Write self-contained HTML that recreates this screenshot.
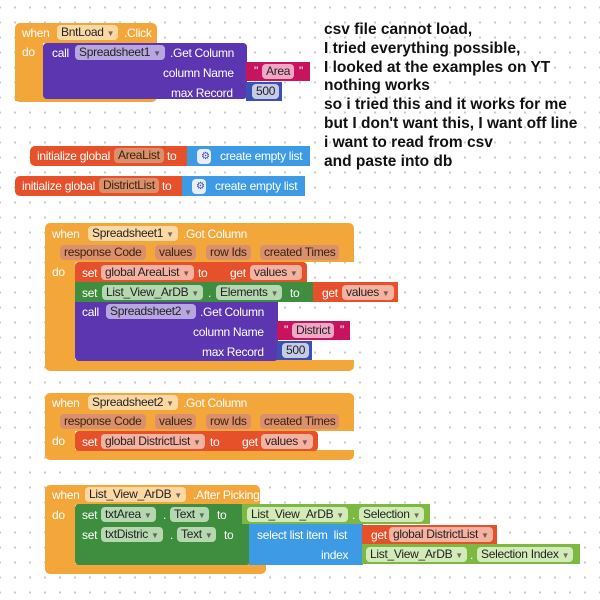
<!DOCTYPE html>
<html><head><meta charset="utf-8"><style>
body{margin:0;width:600px;height:600px;overflow:hidden;background:#fff;
background-image:radial-gradient(circle,#c8c8c8 1px,transparent 1.3px);background-size:15px 15px;background-position:-7.5px 0px;
font-family:"Liberation Sans",Arial,sans-serif;}
.b{position:absolute;}
.t{position:absolute;color:#fff;font-size:12px;letter-spacing:-0.3px;line-height:15px;white-space:nowrap}
.p{position:absolute;font-size:12px;letter-spacing:-0.3px;line-height:15px;height:15px;padding:0 4px;border-radius:4px;white-space:nowrap;color:#222}
.p i{font-style:normal;font-size:8px;opacity:.6;margin-left:3px}
.o{background:#f3a73a}.op{background:#fcd9a4}.oq{background:#d9906b;color:#3a1f10}
.pu{background:#5c35b0}.pup{background:#b8a6e0}
.pk{background:#c8145e}.pkp{background:#f2a7c6}
.nb{background:#3d4fb0}.nbp{background:#c6cbe8}
.r{background:#e6502a}.rp{background:#f6b2a1}.rq{background:#f0a088}
.bl{background:#3d9be6}
.g{background:#3f8d3f}.gp{background:#b5d8b0}
.lg{background:#7db842}.lgp{background:#d3ebb8}
.note{position:absolute;left:324px;top:21px;font-weight:bold;font-size:15.5px;line-height:18.8px;color:#111;white-space:nowrap}
</style></head><body>

<!-- Block 1 -->
<div class="b o" style="left:15px;top:23px;width:142px;height:20px;border-radius:5px 5px 0 0"></div>
<div class="b o" style="left:15px;top:43px;width:28px;height:58px"></div>
<div class="b o" style="left:15px;top:92px;width:142px;height:10px;border-radius:0 0 5px 5px"></div>
<div class="t" style="left:22px;top:26px">when</div>
<div class="p op" style="left:57px;top:25px">BntLoad<i>▼</i></div>
<div class="t" style="left:124px;top:26px">.Click</div>
<div class="t" style="left:22px;top:45px">do</div>
<div class="b pu" style="left:43px;top:43px;width:204px;height:56px;border-radius:4px"></div>
<div class="t" style="left:52px;top:46px">call</div>
<div class="p pup" style="left:75px;top:45px">Spreadsheet1<i>▼</i></div>
<div class="t" style="left:170px;top:46px">.Get Column</div>
<div class="t" style="left:163px;top:66px">column Name</div>
<div class="t" style="left:171px;top:86px">max Record</div>
<div class="b pk" style="left:246px;top:62px;width:64px;height:19px"></div>
<div class="p pkp" style="left:262px;top:64px">Area</div>
<div class="t" style="left:254px;top:64px">"</div><div class="t" style="left:299px;top:64px">"</div>
<div class="b nb" style="left:246px;top:82px;width:36px;height:19px"></div>
<div class="p nbp" style="left:252px;top:84px">500</div>

<!-- init globals -->
<div class="b r" style="left:30px;top:146px;width:157px;height:20px;border-radius:5px 0 0 5px"></div>
<div class="t" style="left:37px;top:149px">initialize global</div>
<div class="p oq" style="left:114px;top:148px">AreaList</div>
<div class="t" style="left:167px;top:149px">to</div>
<div class="b bl" style="left:187px;top:146px;width:123px;height:20px"></div>
<div class="p nbp" style="left:197px;top:149px;width:6px;background:#e8eefa;color:#3d4fb0;font-size:10px">⚙</div>
<div class="t" style="left:220px;top:149px">create empty list</div>

<div class="b r" style="left:15px;top:176px;width:167px;height:20px;border-radius:5px 0 0 5px"></div>
<div class="t" style="left:22px;top:179px">initialize global</div>
<div class="p oq" style="left:99px;top:178px">DistrictList</div>
<div class="t" style="left:162px;top:179px">to</div>
<div class="b bl" style="left:182px;top:176px;width:123px;height:20px"></div>
<div class="p nbp" style="left:192px;top:179px;width:6px;background:#e8eefa;color:#3d4fb0;font-size:10px">⚙</div>
<div class="t" style="left:215px;top:179px">create empty list</div>

<!-- Block 3 -->
<div class="b o" style="left:45px;top:223px;width:309px;height:39px;border-radius:5px 5px 0 0"></div>
<div class="b o" style="left:45px;top:262px;width:30px;height:100px"></div>
<div class="b o" style="left:45px;top:360px;width:309px;height:11px;border-radius:0 0 5px 5px"></div>
<div class="t" style="left:52px;top:227px">when</div>
<div class="p op" style="left:88px;top:226px">Spreadsheet1<i>▼</i></div>
<div class="t" style="left:183px;top:227px">.Got Column</div>
<div class="p oq" style="left:60px;top:245px">response Code</div>
<div class="p oq" style="left:155px;top:245px">values</div>
<div class="p oq" style="left:206px;top:245px">row Ids</div>
<div class="p oq" style="left:260px;top:245px">created Times</div>
<div class="t" style="left:52px;top:265px">do</div>
<div class="b r" style="left:75px;top:262px;width:232px;height:20px;border-radius:4px 4px 0 0"></div>
<div class="t" style="left:82px;top:266px">set</div>
<div class="p rp" style="left:101px;top:265px">global AreaList<i>▼</i></div>
<div class="t" style="left:198px;top:266px">to</div>
<div class="t" style="left:230px;top:266px">get</div>
<div class="p rp" style="left:250px;top:265px">values<i>▼</i></div>
<div class="b g" style="left:75px;top:282px;width:238px;height:20px"></div>
<div class="t" style="left:82px;top:286px">set</div>
<div class="p gp" style="left:102px;top:285px">List_View_ArDB<i>▼</i></div>
<div class="t" style="left:208px;top:286px">.</div>
<div class="p gp" style="left:216px;top:285px">Elements<i>▼</i></div>
<div class="t" style="left:290px;top:286px">to</div>
<div class="b r" style="left:313px;top:282px;width:85px;height:20px"></div>
<div class="t" style="left:322px;top:286px">get</div>
<div class="p rp" style="left:342px;top:285px">values<i>▼</i></div>
<div class="b pu" style="left:75px;top:302px;width:203px;height:59px;border-radius:0 0 4px 4px"></div>
<div class="t" style="left:82px;top:305px">call</div>
<div class="p pup" style="left:106px;top:304px">Spreadsheet2<i>▼</i></div>
<div class="t" style="left:200px;top:305px">.Get Column</div>
<div class="t" style="left:193px;top:325px">column Name</div>
<div class="t" style="left:202px;top:345px">max Record</div>
<div class="b pk" style="left:277px;top:321px;width:73px;height:19px"></div>
<div class="t" style="left:284px;top:323px">"</div>
<div class="p pkp" style="left:292px;top:323px">District</div>
<div class="t" style="left:340px;top:323px">"</div>
<div class="b nb" style="left:277px;top:341px;width:35px;height:19px"></div>
<div class="p nbp" style="left:282px;top:343px">500</div>

<!-- Block 4 -->
<div class="b o" style="left:45px;top:393px;width:309px;height:38px;border-radius:5px 5px 0 0"></div>
<div class="b o" style="left:45px;top:431px;width:30px;height:22px"></div>
<div class="b o" style="left:45px;top:450px;width:309px;height:10px;border-radius:0 0 5px 5px"></div>
<div class="t" style="left:52px;top:396px">when</div>
<div class="p op" style="left:88px;top:395px">Spreadsheet2<i>▼</i></div>
<div class="t" style="left:183px;top:396px">.Got Column</div>
<div class="p oq" style="left:60px;top:414px">response Code</div>
<div class="p oq" style="left:155px;top:414px">values</div>
<div class="p oq" style="left:206px;top:414px">row Ids</div>
<div class="p oq" style="left:260px;top:414px">created Times</div>
<div class="t" style="left:52px;top:434px">do</div>
<div class="b r" style="left:75px;top:431px;width:243px;height:20px;border-radius:4px"></div>
<div class="t" style="left:82px;top:435px">set</div>
<div class="p rp" style="left:101px;top:434px">global DistrictList<i>▼</i></div>
<div class="t" style="left:210px;top:435px">to</div>
<div class="t" style="left:242px;top:435px">get</div>
<div class="p rp" style="left:261px;top:434px">values<i>▼</i></div>

<!-- Block 5 -->
<div class="b o" style="left:45px;top:485px;width:215px;height:20px;border-radius:5px 5px 0 0"></div>
<div class="b o" style="left:45px;top:505px;width:30px;height:62px"></div>
<div class="b o" style="left:45px;top:564px;width:221px;height:10px;border-radius:0 0 5px 5px"></div>
<div class="t" style="left:52px;top:488px">when</div>
<div class="p op" style="left:85px;top:487px">List_View_ArDB<i>▼</i></div>
<div class="t" style="left:193px;top:488px">.After Picking</div>
<div class="t" style="left:52px;top:508px">do</div>
<div class="b g" style="left:75px;top:504px;width:175px;height:61px;border-radius:4px"></div>
<div class="t" style="left:82px;top:508px">set</div>
<div class="p gp" style="left:101px;top:507px">txtArea<i>▼</i></div>
<div class="t" style="left:163px;top:508px">.</div>
<div class="p gp" style="left:170px;top:507px">Text<i>▼</i></div>
<div class="t" style="left:217px;top:508px">to</div>
<div class="t" style="left:82px;top:528px">set</div>
<div class="p gp" style="left:101px;top:527px">txtDistric<i>▼</i></div>
<div class="t" style="left:170px;top:528px">.</div>
<div class="p gp" style="left:177px;top:527px">Text<i>▼</i></div>
<div class="t" style="left:224px;top:528px">to</div>
<div class="b lg" style="left:242px;top:504px;width:188px;height:20px"></div>
<div class="p lgp" style="left:247px;top:507px">List_View_ArDB<i>▼</i></div>
<div class="t" style="left:352px;top:508px">.</div>
<div class="p lgp" style="left:359px;top:507px">Selection<i>▼</i></div>
<div class="b bl" style="left:249px;top:524px;width:114px;height:41px"></div>
<div class="t" style="left:257px;top:528px">select list item&nbsp; list</div>
<div class="t" style="left:321px;top:548px">index</div>
<div class="b r" style="left:362px;top:525px;width:135px;height:19px"></div>
<div class="t" style="left:371px;top:528px">get</div>
<div class="p rp" style="left:389px;top:527px">global DistrictList<i>▼</i></div>
<div class="b lg" style="left:362px;top:544px;width:218px;height:20px"></div>
<div class="p lgp" style="left:366px;top:547px">List_View_ArDB<i>▼</i></div>
<div class="t" style="left:470px;top:548px">.</div>
<div class="p lgp" style="left:477px;top:547px">Selection Index<i>▼</i></div>

<div class="note">csv file cannot load,<br>I tried everything possible,<br>I looked at the examples on YT<br>nothing works<br>so i tried this and it works for me<br>but I don't want this, I want off line<br>i want to read from csv<br>and paste into db</div>
</body></html>
